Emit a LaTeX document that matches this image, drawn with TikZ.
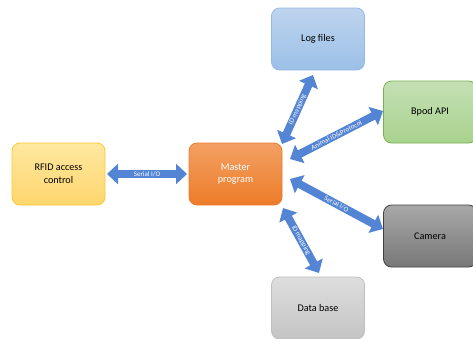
\documentclass[tikz,border=0pt]{standalone}
\usepackage{fontspec}
\setmainfont{Carlito}
\usetikzlibrary{arrows.meta}
\definecolor{arrblue}{RGB}{84,132,212}
\definecolor{ylwtop}{RGB}{255,232,160}
\definecolor{ylwbot}{RGB}{255,214,110}
\definecolor{ylwline}{RGB}{255,200,40}
\definecolor{orgtop}{RGB}{243,160,100}
\definecolor{orgbot}{RGB}{236,124,40}
\definecolor{orgline}{RGB}{236,124,48}
\definecolor{blutop}{RGB}{190,212,238}
\definecolor{blubot}{RGB}{156,192,232}
\definecolor{bluline}{RGB}{150,186,226}
\definecolor{grntop}{RGB}{196,224,180}
\definecolor{grnbot}{RGB}{168,210,142}
\definecolor{grnline}{RGB}{120,176,84}
\definecolor{gratop}{RGB}{168,168,168}
\definecolor{grabot}{RGB}{120,120,120}
\definecolor{graline}{RGB}{64,64,64}
\definecolor{lgrtop}{RGB}{222,222,222}
\definecolor{lgrbot}{RGB}{196,196,196}
\definecolor{lgrline}{RGB}{190,190,190}
\tikzset{
  boxnode/.style={rounded corners=8pt, minimum width=93pt, minimum height=62pt,
    inner sep=0pt, align=center, font=\fontsize{10.2}{12.5}\selectfont, line width=0.8pt},
  dblarrow/.style={arrblue, line width=8pt,
    {Triangle[length=11pt,width=20pt]}-{Triangle[length=11pt,width=20pt]}},
  arrlabel/.style={font=\fontsize{7}{8}\selectfont, text=white, inner sep=0pt}
}
\begin{document}
\begin{tikzpicture}[x=1pt,y=-1pt]
\useasboundingbox (0,0) rectangle (473,338);
\node[boxnode, draw=ylwline, top color=ylwtop, bottom color=ylwbot] (rfid) at (58.5,174) {RFID access\\control};
\node[boxnode, draw=orgline, top color=orgtop, bottom color=orgbot, text=white] (master) at (235.5,174) {Master\\program};
\node[boxnode, draw=bluline, top color=blutop, bottom color=blubot] (logs) at (318,39) {Log files};
\node[boxnode, draw=grnline, top color=grntop, bottom color=grnbot] (bpod) at (430,112) {Bpod API};
\node[boxnode, draw=graline, top color=gratop, bottom color=grabot] (camera) at (430,236) {Camera};
\node[boxnode, draw=lgrline, top color=lgrtop, bottom color=lgrbot] (db) at (318,308) {Data base};
\coordinate (a1s) at (107,174);
\coordinate (a1e) at (187,174);
\coordinate (a2s) at (282,144);
\coordinate (a2e) at (313,75);
\coordinate (a3s) at (290,159);
\coordinate (a3e) at (383,111);
\coordinate (a4s) at (290,179);
\coordinate (a4e) at (383,229);
\coordinate (a5s) at (283,208);
\coordinate (a5e) at (319,273);
\draw[dblarrow] (a1s) -- (a1e) node[midway, arrlabel] {Serial I/O};
\draw[dblarrow] (a2s) -- (a2e) node[midway, sloped, arrlabel] {ID mapping};
\draw[dblarrow] (a3s) -- (a3e) node[midway, sloped, arrlabel] {Animal ID\&Protocol};
\draw[dblarrow] (a4s) -- (a4e) node[midway, sloped, arrlabel] {Serial I/O};
\draw[dblarrow] (a5s) -- (a5e) node[midway, sloped, arrlabel] {ID mapping};
\end{tikzpicture}
\end{document}
